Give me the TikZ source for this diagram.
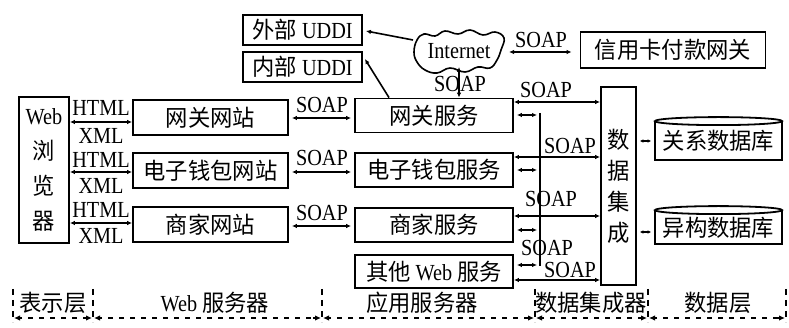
\documentclass[tikz,border=0pt]{standalone}
\usepackage{fontspec}
\setmainfont[FakeStretch=0.88]{Liberation Serif}
\newfontfamily\cjk[FakeStretch=0.97]{Noto Sans CJK SC}
\usetikzlibrary{arrows.meta}
\newcommand\zhs[1]{{\cjk #1}}
\begin{document}
\begin{tikzpicture}[x=1pt,y=-1pt,
  box/.style={draw,line width=1.8pt,inner sep=0pt,font=\fontsize{23}{26}\selectfont},
  lab/.style={inner sep=0pt,font=\fontsize{23}{24}\selectfont},
  tipx/.tip={Latex[length=5pt,width=4.5pt]},
  dar/.style={line width=1.6pt,tipx-tipx},
  sar/.style={line width=1.6pt,-tipx},
  bus/.style={line width=1.6pt},
  layerdash/.style={draw=black,line width=2.4pt,dash pattern=on 5pt off 6pt},
  layertip/.style={draw=black,line width=1.6pt,-{Latex[length=6pt,width=5.5pt]}},
  tickline/.style={line width=2.6pt,dash pattern=on 6pt off 5pt}
]
\useasboundingbox (0,0) rectangle (789,328);

% UDDI
\node[box,minimum width=119pt,minimum height=30pt] (ext) at (302.5,30) {\zhs{外部} UDDI};
\node[box,minimum width=119pt,minimum height=30pt] (int) at (302.5,67) {\zhs{内部} UDDI};

% browser
\node[box,minimum width=50pt,minimum height=146pt,align=center,font=\fontsize{23}{35}\selectfont] (browser) at (44,170) {Web\\\zhs{浏}\\\zhs{览}\\\zhs{器}};

% web sites
\node[box,minimum width=155pt,minimum height=35pt] (gwsite) at (210.5,117.5) {\zhs{网关网站}};
\node[box,minimum width=155pt,minimum height=35pt] (walletsite) at (210.5,170.5) {\zhs{电子钱包网站}};
\node[box,minimum width=155pt,minimum height=35pt] (shopsite) at (210.5,224.5) {\zhs{商家网站}};

% services
\node[box,minimum width=158pt,minimum height=34pt] (gwsvc) at (434,115.5) {\zhs{网关服务}};
\node[box,minimum width=158pt,minimum height=34pt] (walletsvc) at (434,170) {\zhs{电子钱包服务}};
\node[box,minimum width=158pt,minimum height=34pt] (shopsvc) at (434,225) {\zhs{商家服务}\hspace{36pt}};
\node[box,minimum width=158pt,minimum height=33pt] (othersvc) at (434,271.5) {\zhs{其他} Web \zhs{服务}};

% internet cloud
\draw[line width=1.6pt] plot[smooth cycle,tension=0.7] coordinates {(414,52) (417,40) (424,34) (435,36) (445,31) (458,34) (470,30) (483,35) (495,32) (504,38) (501,50) (497,60) (490,68) (478,67) (465,72) (450,68) (437,73) (425,70) (417,62)};
\node[lab] (inet) at (459,51) {Internet};
\coordinate (inetL) at (413,40);
\coordinate (inetR) at (509,52);
\coordinate (inetB) at (459,67);

% card gateway
\node[box,minimum width=185pt,minimum height=36pt] (card) at (673,50) {\zhs{信用卡付款网关}};

% data integration
\node[box,minimum width=35pt,minimum height=198pt,align=center,font=\fontsize{23}{31}\selectfont] (dataint) at (618.5,186) {\zhs{数}\\\zhs{据}\\\zhs{集}\\\zhs{成}};

% databases
\node[box,minimum width=127pt,minimum height=38pt] (reldb) at (718.5,141) {\zhs{关系数据库}};
\draw[line width=1.8pt,fill=white] (reldb.north) ellipse [x radius=63.5pt,y radius=4pt];
\node[box,minimum width=127pt,minimum height=33pt] (hetdb) at (718.5,227.5) {\zhs{异构数据库}};
\draw[line width=1.8pt,fill=white] (hetdb.north) ellipse [x radius=63.5pt,y radius=4pt];

% browser <-> sites
\draw[dar] (browser.east |- 0,122) -- (gwsite.west |- 0,122);
\node[lab] (h1) at (101,108) {HTML};
\node[lab] (x1) at (101,136) {XML};
\draw[dar] (browser.east |- 0,172) -- (walletsite.west |- 0,172);
\node[lab] (h2) at (101,160) {HTML};
\node[lab] (x2) at (101,186) {XML};
\draw[dar] (browser.east |- 0,223) -- (shopsite.west |- 0,223);
\node[lab] (h3) at (101,210) {HTML};
\node[lab] (x3) at (101,236) {XML};

% sites <-> services
\draw[dar] ([xshift=3pt]gwsite.east |- 0,118) -- ([xshift=-3pt]gwsvc.west |- 0,118);
\node[lab] (s1) at (322,105) {SOAP};
\draw[dar] ([xshift=3pt]walletsite.east |- 0,172) -- ([xshift=-3pt]walletsvc.west |- 0,172);
\node[lab] (s2) at (322,158) {SOAP};
\draw[dar] ([xshift=3pt]shopsite.east |- 0,226) -- ([xshift=-3pt]shopsvc.west |- 0,226);
\node[lab] (s3) at (322,213) {SOAP};

% UDDI links
\draw[sar] (inetL) -- ([xshift=3pt,yshift=-1pt]ext.east);
\draw[line width=1.6pt,tipx-] ([xshift=2pt,yshift=8pt]int.east) -- ([xshift=-45pt]gwsvc.north);

% internet links
\draw[dar] (inetR) -- ([xshift=-8pt]card.west |- inetR);
\node[lab] (s4) at (541,40) {SOAP};
\draw[dar] (inetB) -- (inetB |- gwsvc.north);
\node[lab] (s5) at (460,84) {SOAP};

% data bus
\coordinate (busT) at (540,113);
\coordinate (busB) at (540,266);
\draw[bus] (busT) -- (busB);
\draw[dar] (gwsvc.east |- 0,102) -- (dataint.west |- 0,102);
\draw[dar] ([xshift=3pt]gwsvc.east |- 0,115) -- ([xshift=-3pt]busT |- 0,115);
\draw[dar] (walletsvc.east |- 0,157) -- (dataint.west |- 0,157);
\draw[dar] ([xshift=3pt]walletsvc.east |- 0,170) -- ([xshift=-3pt]busT |- 0,170);
\draw[dar] (shopsvc.east |- 0,216) -- (dataint.west |- 0,216);
\draw[dar] ([xshift=3pt]shopsvc.east |- 0,230) -- ([xshift=-3pt]busT |- 0,230);
\draw[dar] ([xshift=3pt]othersvc.east |- 0,265) -- ([xshift=-3pt]busT |- 0,265);
\draw[dar] (othersvc.east |- 0,280) -- (dataint.west |- 0,280);
\node[lab] (b1) at (546,90) {SOAP};
\node[lab] (b2) at (570,146) {SOAP};
\node[lab] (b3) at (551,199) {SOAP};
\node[lab] (b4) at (547,248) {SOAP};
\node[lab] (b5) at (570,270) {SOAP};

% data integration <-> databases
\draw[line width=1.6pt,{Latex[length=3.5pt,width=3.5pt]}-{Latex[length=3.5pt,width=3.5pt]}] ([xshift=3pt]dataint.east |- reldb.center) -- ([xshift=-3pt]reldb.west);
\draw[line width=1.6pt,{Latex[length=3.5pt,width=3.5pt]}-{Latex[length=3.5pt,width=3.5pt]}] ([xshift=3pt]dataint.east |- 0,232) -- ([xshift=-3pt]hetdb.west |- 0,232);

% layers
\foreach \x in {13,93,322,535,648,786}{
  \draw[tickline] (\x,289) -- (\x,322);
}
\foreach \a/\b in {13/93,93/322,322/535,535/648,648/786}{
  \draw[layerdash] (\a+4,318) -- (\b-4,318);
  \draw[layertip] (\a+9,318) -- (\a+1,318);
  \draw[layertip] (\b-9,318) -- (\b-1,318);
}
\node[lab] (l1) at (53,303) {\zhs{表示层}};
\node[lab] (l2) at (215,303) {Web \zhs{服务器}};
\node[lab] (l3) at (422,303) {\zhs{应用服务器}};
\node[lab] (l4) at (591,303) {\zhs{数据集成器}};
\node[lab] (l5) at (718,303) {\zhs{数据层}};
\end{tikzpicture}
\end{document}
